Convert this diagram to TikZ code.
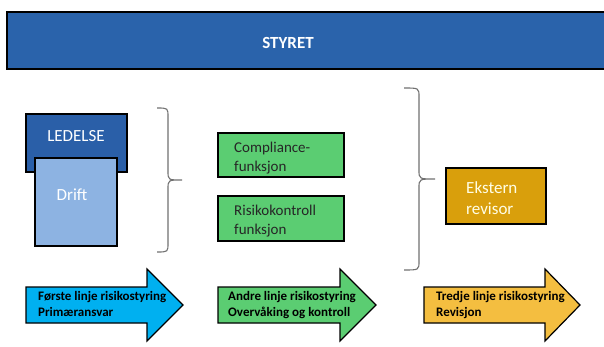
\documentclass[tikz,border=0pt]{standalone}
\usepackage{fontspec}
\setmainfont{Carlito}
\definecolor{styrblue}{HTML}{2A63AB}
\definecolor{ledblue}{HTML}{2A5FA8}
\definecolor{driftblue}{HTML}{8DB3E2}
\definecolor{boxgreen}{HTML}{5BCD72}
\definecolor{arrblue}{HTML}{00B0F0}
\definecolor{arryellow}{HTML}{F4BE40}
\definecolor{gold}{HTML}{D99F0C}
\definecolor{bracegray}{HTML}{707070}
\tikzset{
  box/.style={draw=black, line width=1.4pt},
  arrowshape/.style={draw=black, line width=1.2pt, line join=miter},
  bracestyle/.style={draw=bracegray, line width=1.1pt},
  arrtext/.style={anchor=north west, align=left, inner sep=0pt, font=\fontsize{13}{16}\selectfont\bfseries, text=black},
  boxtext/.style={anchor=north west, align=left, inner sep=0pt},
}
\begin{document}
\begin{tikzpicture}[x=1pt,y=-1pt]
\useasboundingbox (0,0) rectangle (604,347);
% STYRET
\draw[box, fill=styrblue] (7,12) rectangle (606,69);
\node[text=white, font=\fontsize{17}{20}\selectfont\bfseries] (styret) at (288,43) {STYRET};
% LEDELSE / Drift
\draw[box, fill=ledblue] (26,114) rectangle (127,172);
\node[text=white, font=\fontsize{17}{20}\selectfont] (ledelse) at (76,136) {LEDELSE};
\draw[box, fill=driftblue] (35,158) rectangle (117,246);
\node[text=white, font=\fontsize{17}{20}\selectfont] (drift) at (72,195) {Drift};
% left brace
\draw[bracestyle] (157,108) .. controls (168,108) .. (168,117) -- (168,171) .. controls (168,180) .. (182,180)
  .. controls (168,180) .. (168,189) -- (168,243) .. controls (168,252) .. (157,252);
% green boxes
\draw[box, fill=boxgreen] (218,133) rectangle (344,177);
\node[boxtext, font=\fontsize{15}{19}\selectfont, text=black!85] (compl) at (234,142) {Compliance-\\funksjon};
\draw[box, fill=boxgreen] (218,196) rectangle (344,241);
\node[boxtext, font=\fontsize{15}{19}\selectfont, text=black!85] (risk) at (234,205) {Risikokontroll\\funksjon};
% right brace
\draw[bracestyle] (404,88) .. controls (419,88) .. (419,97) -- (419,170) .. controls (419,179) .. (435,179)
  .. controls (419,179) .. (419,188) -- (419,261) .. controls (419,270) .. (404,270);
% Ekstern revisor
\draw[box, fill=gold] (446,168) rectangle (546,224);
\node[boxtext, font=\fontsize{17}{21}\selectfont, text=yellow!10] (ekst) at (466,181) {Ekstern\\revisor};
% arrows
\draw[arrowshape, fill=arrblue] (26,287) -- (147,287) -- (147,269) -- (183,305) -- (147,341) -- (147,323) -- (26,323) -- cycle;
\node[arrtext] (a1) at (38,291) {Første linje risikostyring\\Primæransvar};
\draw[arrowshape, fill=boxgreen] (218,287) -- (340,287) -- (340,269) -- (376,305) -- (340,341) -- (340,323) -- (218,323) -- cycle;
\node[arrtext] (a2) at (228,291) {Andre linje risikostyring\\Overvåking og kontroll};
\draw[arrowshape, fill=arryellow] (424,287) -- (545,287) -- (545,269) -- (580,305) -- (545,341) -- (545,323) -- (424,323) -- cycle;
\node[arrtext] (a3) at (436,291) {Tredje linje risikostyring\\Revisjon};
\end{tikzpicture}
\end{document}
